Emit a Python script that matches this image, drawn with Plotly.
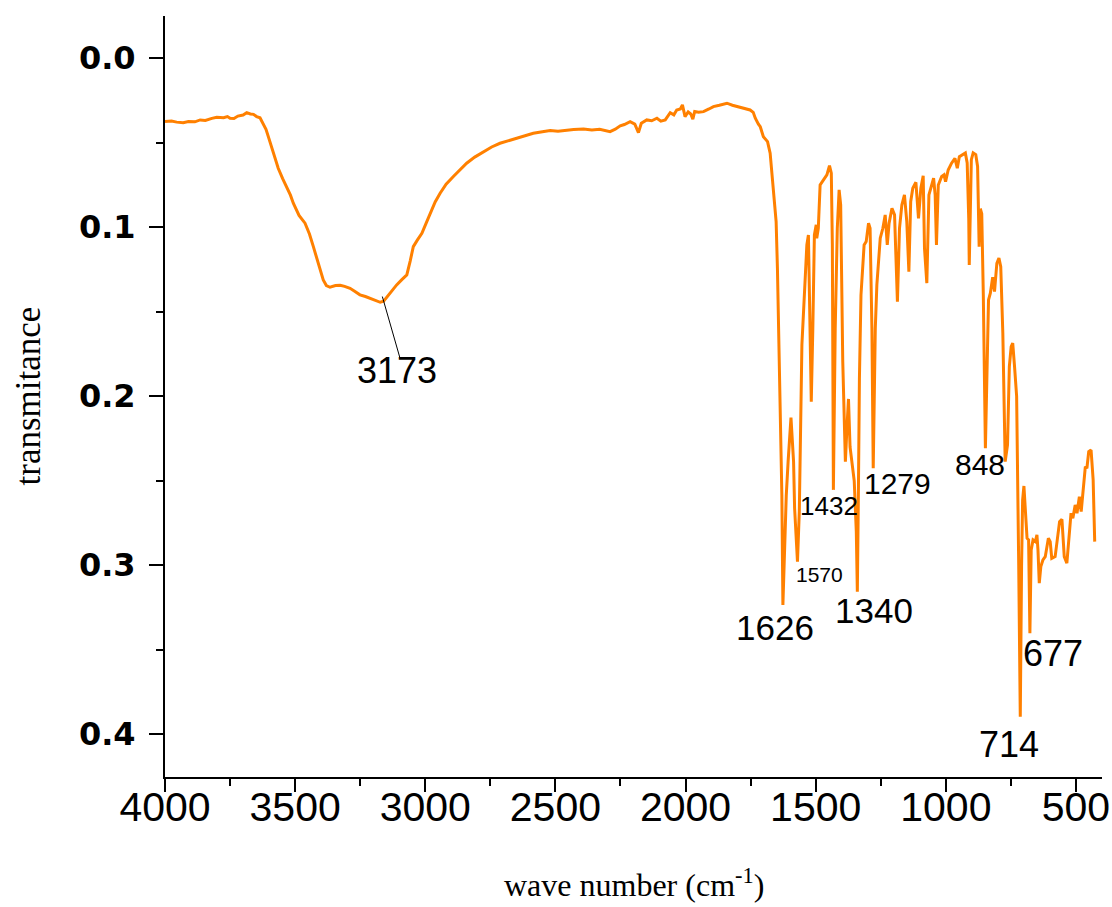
import plotly.graph_objects as go

# IR spectrum: wave number (cm-1) vs. transmitance
wavenumber = [
    4000, 3975, 3955, 3930, 3910, 3885, 3865, 3845, 3820, 3801, 3775, 3760, 3750, 3735,
    3720, 3700, 3686, 3672, 3660, 3648, 3635, 3622, 3612, 3603, 3585, 3565, 3548, 3532,
    3518, 3507, 3485, 3462, 3445, 3430, 3410, 3392, 3380, 3366, 3345, 3327, 3310, 3289,
    3270, 3251, 3230, 3212, 3195, 3173, 3160, 3148, 3130, 3110, 3090, 3071, 3058, 3046,
    3030, 3013, 2995, 2981, 2962, 2943, 2920, 2892, 2865, 2841, 2810, 2777, 2745, 2713,
    2680, 2648, 2615, 2585, 2550, 2520, 2490, 2460, 2430, 2392, 2360, 2330, 2310, 2290,
    2270, 2251, 2235, 2213, 2195, 2181, 2170, 2149, 2130, 2110, 2095, 2078, 2059, 2045,
    2034, 2020, 2012, 2005, 2002, 1990, 1980, 1972, 1965, 1950, 1931, 1910, 1893, 1870,
    1841, 1820, 1803, 1780, 1752, 1740, 1732, 1720, 1713, 1701, 1685, 1675, 1662, 1652,
    1647, 1637, 1630, 1626, 1613, 1606, 1595, 1585, 1581, 1570, 1563, 1553, 1543, 1534,
    1528, 1521, 1517, 1511, 1505, 1498, 1496, 1490, 1483, 1470, 1457, 1447, 1440, 1436,
    1432, 1425, 1417, 1410, 1404, 1396, 1386, 1380, 1374, 1368, 1352, 1344, 1340, 1336,
    1332, 1326, 1321, 1314, 1306, 1297, 1291, 1284, 1279, 1271, 1265, 1259, 1252, 1242,
    1233, 1225, 1218, 1207, 1197, 1186, 1178, 1169, 1159, 1150, 1142, 1135, 1127, 1115,
    1105, 1096, 1087, 1082, 1073, 1065, 1057, 1047, 1041, 1036, 1029, 1016, 1007, 1001,
    991, 978, 965, 956, 948, 935, 925, 918, 912, 910, 906, 902, 895, 885, 878, 874, 872,
    869, 866, 862, 856, 848, 842, 836, 829, 820, 813, 804, 796, 789, 781, 776, 772, 763,
    756, 749, 743, 736, 728, 720, 714, 709, 705, 700, 695, 688, 682, 677, 672, 665, 656,
    650, 646, 641, 635, 627, 618, 612, 606, 599, 593, 580, 573, 563, 554, 545, 535, 526,
    519, 512, 503, 496, 487, 480, 473, 464, 458, 451, 442, 434, 428,
]
transmitance = [
    0.0375, 0.0372, 0.0378, 0.0381, 0.0374, 0.0376, 0.0365, 0.0368, 0.0356, 0.0349, 0.0352, 0.0345, 0.0355, 0.0357,
    0.0342, 0.0336, 0.0322, 0.0330, 0.0332, 0.0345, 0.0352, 0.0395, 0.0420, 0.0464, 0.0560, 0.0651, 0.0712, 0.0760,
    0.0810, 0.0858, 0.0930, 0.0976, 0.1040, 0.1115, 0.1220, 0.1312, 0.1345, 0.1355, 0.1345, 0.1343, 0.1350, 0.1361,
    0.1380, 0.1400, 0.1410, 0.1420, 0.1430, 0.1444, 0.1438, 0.1414, 0.1380, 0.1341, 0.1310, 0.1282, 0.1200, 0.1115,
    0.1075, 0.1036, 0.0970, 0.0917, 0.0850, 0.0799, 0.0745, 0.0700, 0.0655, 0.0621, 0.0585, 0.0553, 0.0525, 0.0503,
    0.0488, 0.0473, 0.0460, 0.0444, 0.0435, 0.0428, 0.0432, 0.0425, 0.0422, 0.0418, 0.0424, 0.0420, 0.0428, 0.0434,
    0.0420, 0.0400, 0.0392, 0.0375, 0.0390, 0.0440, 0.0385, 0.0365, 0.0370, 0.0355, 0.0372, 0.0365, 0.0322, 0.0335,
    0.0306, 0.0300, 0.0276, 0.0320, 0.0345, 0.0318, 0.0330, 0.0360, 0.0315, 0.0320, 0.0316, 0.0300, 0.0286, 0.0278,
    0.0266, 0.0278, 0.0286, 0.0294, 0.0306, 0.0320, 0.0355, 0.0390, 0.0405, 0.0464, 0.0493, 0.0562, 0.0789, 0.0967,
    0.1243, 0.1992, 0.2584, 0.3235, 0.2584, 0.2387, 0.2127, 0.2387, 0.2663, 0.2979, 0.2683, 0.1696, 0.1361, 0.1105,
    0.1046, 0.1598, 0.2032, 0.1598, 0.1046, 0.0986, 0.1065, 0.1006, 0.0750, 0.0720, 0.0690, 0.0636, 0.0680, 0.1100,
    0.2554, 0.1598, 0.1006, 0.0779, 0.0868, 0.1795, 0.2387, 0.2189, 0.2016, 0.2300, 0.2500, 0.2800, 0.3156, 0.2584,
    0.1893, 0.1401, 0.1263, 0.1105, 0.1085, 0.0976, 0.1006, 0.1598, 0.2426, 0.1598, 0.1341, 0.1223, 0.1065, 0.1006,
    0.0927, 0.1105, 0.0976, 0.0888, 0.0927, 0.1440, 0.1006, 0.0868, 0.0809, 0.0967, 0.1263, 0.0849, 0.0769, 0.0734,
    0.0947, 0.0769, 0.0695, 0.1124, 0.1331, 0.0809, 0.0769, 0.0710, 0.0809, 0.1105, 0.0750, 0.0700, 0.0690, 0.0730,
    0.0661, 0.0621, 0.0592, 0.0651, 0.0582, 0.0570, 0.0560, 0.0620, 0.0950, 0.1223, 0.0900, 0.0600, 0.0560, 0.0570, 0.0640, 0.0860, 0.1115,
    0.0900, 0.0898, 0.0920, 0.1400, 0.2308, 0.1825, 0.1430, 0.1390, 0.1296, 0.1381, 0.1213, 0.1183, 0.1233, 0.1627, 0.2022, 0.2387, 0.2288,
    0.1825, 0.1706, 0.1686, 0.1825, 0.2000, 0.3000, 0.3896, 0.3008, 0.2614, 0.2531, 0.2653, 0.2840, 0.2850, 0.3402, 0.2909, 0.2850, 0.2860,
    0.2820, 0.2909, 0.3106, 0.3008, 0.2969, 0.2949, 0.2890, 0.2840, 0.2860, 0.2959, 0.2949, 0.2850, 0.2742, 0.2728, 0.2949, 0.2988, 0.2811,
    0.2692, 0.2722, 0.2643, 0.2692, 0.2594, 0.2683, 0.2554, 0.2416, 0.2426, 0.2328, 0.2318, 0.2495, 0.2860,
]

# Assigned band positions (cm-1)
peak_labels = ["3173", "1626", "1570", "1432", "1340", "1279", "848", "714", "677"]

# Where each band label sits (x in cm-1, y in transmitance) and its font size
label_pos = {
    "3173": (3108, 0.1850, 36),
    "1626": (1656, 0.3370, 35),
    "1570": (1487, 0.3057, 21),
    "1432": (1448, 0.2649, 26),
    "1340": (1275, 0.3265, 35),
    "1279": (1187, 0.2519, 30),
    "848": (868, 0.2406, 30),
    "714": (756, 0.4063, 36),
    "677": (587, 0.3525, 36),
}

fig = go.Figure()
fig.add_trace(go.Scatter(
    x=wavenumber, y=transmitance, mode="lines",
    line=dict(color="#ff8000", width=3),
    showlegend=False, hoverinfo="skip",
))

# leader line from the broad O-H/N-H band to its label
fig.add_shape(type="line", xref="x", yref="y",
              x0=3165, y0=0.1410, x1=3097, y1=0.1775,
              line=dict(color="black", width=1))

for lab in peak_labels:
    x, y, size = label_pos[lab]
    fig.add_annotation(x=x, y=y, xref="x", yref="y", text=lab, showarrow=False,
                       xanchor="center", yanchor="middle",
                       font=dict(family="Liberation Sans, Arial, sans-serif", size=size, color="black"))

# axis titles
fig.add_annotation(x=0.5, y=0, xref="paper", yref="paper", yshift=-106,
                   text="wave number (cm<sup>-1</sup>)", showarrow=False,
                   xanchor="center", yanchor="middle",
                   font=dict(family="Liberation Serif, Times New Roman, serif", size=32, color="black"))
fig.add_annotation(x=0, y=0.5, xref="paper", yref="paper", xshift=-137,
                   text="transmitance", showarrow=False, textangle=-90,
                   xanchor="center", yanchor="middle",
                   font=dict(family="Liberation Serif, Times New Roman, serif", size=35, color="black"))

fig.update_xaxes(
    range=[4000, 400], tickmode="linear", tick0=0, dtick=500, automargin=False,
    showline=True, linecolor="black", linewidth=2, mirror=False,
    ticks="outside", ticklen=13, tickwidth=2, tickcolor="black",
    minor=dict(ticks="outside", ticklen=7, tickwidth=2, tickcolor="black", dtick=250, tick0=0),
    showgrid=False, zeroline=False, ticklabeloverflow="allow", ticklabelstandoff=-20,
    tickfont=dict(family="Liberation Sans, Arial, sans-serif", size=41, color="black"),
)
fig.update_yaxes(
    range=[0.4253, -0.025], tickmode="linear", tick0=0, dtick=0.1, tickformat=".1f",
    automargin=False,
    showline=True, linecolor="black", linewidth=2, mirror=False,
    ticks="outside", ticklen=14, tickwidth=2, tickcolor="black",
    minor=dict(ticks="outside", ticklen=7, tickwidth=2, tickcolor="black", dtick=0.05, tick0=0),
    showgrid=False, zeroline=False, ticklabelstandoff=7,
    tickfont=dict(family="DejaVu Sans, Arial Black, sans-serif", size=32, color="black", weight="bold"),
)

fig.update_layout(
    width=1112, height=907, autosize=False,
    margin=dict(l=165, r=10, t=16, b=130),
    paper_bgcolor="white", plot_bgcolor="white",
)

fig.write_html("out.html")
